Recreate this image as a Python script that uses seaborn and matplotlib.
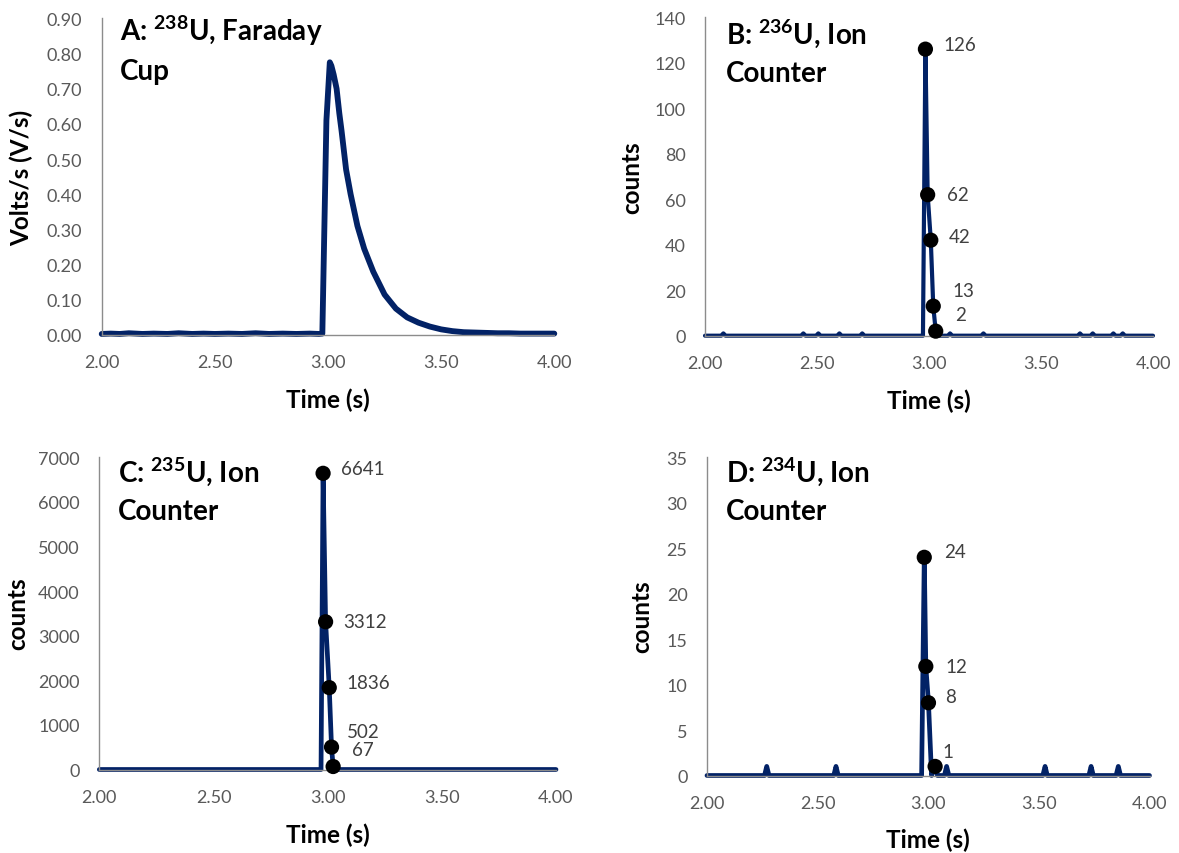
import numpy as np
import pandas as pd
import seaborn as sns
import matplotlib
matplotlib.use("Agg")
import matplotlib.pyplot as plt

# ---------------- data ----------------
# Panel A: 238U Faraday cup signal (V/s)
A_time = [2.00, 2.04, 2.08, 2.12, 2.18, 2.23, 2.29, 2.34, 2.40, 2.45, 2.50, 2.56,
          2.62, 2.68, 2.74, 2.80, 2.86, 2.92, 2.96, 2.975, 2.993, 3.008, 3.015,
          3.025, 3.038, 3.05, 3.06, 3.08, 3.10, 3.13, 3.16, 3.20, 3.25, 3.30,
          3.35, 3.40, 3.45, 3.50, 3.55, 3.60, 3.65, 3.70, 3.75, 3.80, 3.85,
          3.90, 3.95, 4.00]
A_volts = [0.003, 0.004, 0.003, 0.005, 0.003, 0.004, 0.003, 0.005, 0.003, 0.004,
           0.003, 0.004, 0.003, 0.005, 0.003, 0.004, 0.003, 0.004, 0.003, 0.004,
           0.61, 0.775, 0.765, 0.74, 0.70, 0.63, 0.58, 0.47, 0.40, 0.31, 0.245,
           0.18, 0.115, 0.075, 0.05, 0.035, 0.024, 0.016, 0.011, 0.008, 0.007,
           0.006, 0.005, 0.005, 0.004, 0.004, 0.004, 0.004]

# Panel B: 236U ion counter
B_peak_time = [2.973, 2.984, 2.994, 3.008, 3.019, 3.030, 3.040]
B_peak_counts = [0, 126, 62, 42, 13, 2, 0]
B_blip_time = [2.082, 2.439, 2.506, 2.600, 2.702, 3.094, 3.243, 3.674, 3.731, 3.823, 3.865]
B_blip_counts = [1, 1, 1, 1, 1, 1, 1, 1, 1, 1, 1]

# Panel C: 235U ion counter
C_peak_time = [2.971, 2.980, 2.991, 3.007, 3.017, 3.024, 3.035]
C_peak_counts = [0, 6641, 3312, 1836, 502, 67, 0]
C_blip_time = []
C_blip_counts = []

# Panel D: 234U ion counter
D_peak_time = [2.970, 2.982, 2.989, 3.001, 3.015, 3.031, 3.042]
D_peak_counts = [0, 24, 12, 8, 0, 1, 0]
D_labeled_time = [2.982, 2.989, 3.001, 3.031]
D_labeled_counts = [24, 12, 8, 1]
D_blip_time = [2.270, 2.583, 3.083, 3.528, 3.736, 3.859]
D_blip_counts = [1, 1, 1, 1, 1, 1]

x_ticks = [2.00, 2.50, 3.00, 3.50, 4.00]

# ---------------- style ----------------
sns.set_style("white")
plt.rcParams["font.family"] = ["Lato", "DejaVu Sans"]
plt.rcParams["mathtext.fontset"] = "custom"
plt.rcParams["mathtext.rm"] = "Lato:bold"
plt.rcParams["mathtext.bf"] = "Lato:bold"
plt.rcParams["mathtext.it"] = "Lato:bold"

NAVY = "#022266"
AXIS_GRAY = "#8C8C8C"
TICK_TXT = "#595959"
LABEL_TXT = "#404040"

W, H = 1179, 854
fig = plt.figure(figsize=(W / 100, H / 100), dpi=100)


def add_axes(l, r, t, b):
    return fig.add_axes([l / W, 1 - b / H, (r - l) / W, (b - t) / H])


def ion_frame(peak_t, peak_c, blip_t, blip_c, half=0.010):
    t = [2.0, 4.0] + list(peak_t)
    c = [0, 0] + list(peak_c)
    for bt, bc in zip(blip_t, blip_c):
        t += [bt - half, bt, bt + half]
        c += [0, bc, 0]
    df = pd.DataFrame({"time": t, "counts": c}).sort_values("time")
    return df


def style_axes(ax, ylim, yticks, yfmt):
    ax.set_xlim(2.0, 4.0)
    ax.set_ylim(*ylim)
    ax.set_xticks(x_ticks)
    ax.set_xticklabels([f"{v:.2f}" for v in x_ticks])
    ax.set_yticks(yticks)
    ax.set_yticklabels([yfmt.format(v) for v in yticks])
    for s in ["top", "right"]:
        ax.spines[s].set_visible(False)
    for s in ["left", "bottom"]:
        ax.spines[s].set_color(AXIS_GRAY)
        ax.spines[s].set_linewidth(1.0)
    ax.tick_params(axis="both", direction="out", length=4, width=1.0,
                   color=AXIS_GRAY, labelcolor=TICK_TXT, labelsize=13)
    ax.tick_params(axis="x", pad=10)
    ax.tick_params(axis="y", pad=10)
    ax.set_xlabel("")
    ax.set_ylabel("")
    ax.patch.set_alpha(0)


def draw_line(ax, df, y, lw):
    sns.lineplot(data=df, x="time", y=y, ax=ax, color=NAVY, linewidth=lw,
                 estimator=None, sort=False, legend=False)
    for ln in ax.lines:
        ln.set_clip_on(False)
        ln.set_solid_joinstyle("round")
        ln.set_solid_capstyle("round")


def draw_points(ax, times, counts, offsets):
    pts = pd.DataFrame({"time": times, "counts": counts})
    sns.scatterplot(data=pts, x="time", y="counts", ax=ax, color="black",
                    s=120, edgecolor="none", zorder=5, legend=False, clip_on=False)
    for (t, c), (dx, dy) in zip(zip(times, counts), offsets):
        ax.annotate(str(c), (t, c), xytext=(dx, dy), textcoords="offset pixels",
                    ha="left", va="center", fontsize=13.5, color=LABEL_TXT)


# ---------------- Panel A ----------------
axA = add_axes(101.7, 554.3, 19.3, 336)
dfA = pd.DataFrame({"time": A_time, "volts": A_volts})
draw_line(axA, dfA, "volts", 4.2)
style_axes(axA, (0, 0.9), [i / 10 for i in range(10)], "{:.2f}")

# ---------------- Panel B ----------------
axB = add_axes(705, 1153, 18.3, 336.7)
dfB = ion_frame(B_peak_time, B_peak_counts, B_blip_time, B_blip_counts)
draw_line(axB, dfB, "counts", 3.0)
draw_points(axB, B_peak_time[1:6], B_peak_counts[1:6],
            [(18, 5), (19, 0), (18, 4), (19, 16), (19, 17)])
style_axes(axB, (0, 140), list(range(0, 141, 20)), "{:d}")

# ---------------- Panel C ----------------
axC = add_axes(99.3, 556, 458.3, 770.5)
dfC = ion_frame(C_peak_time, C_peak_counts, C_blip_time, C_blip_counts)
draw_line(axC, dfC, "counts", 3.4)
draw_points(axC, C_peak_time[1:6], C_peak_counts[1:6],
            [(18, 5), (18, 0), (17, 5), (15, 16), (19, 17)])
style_axes(axC, (0, 7000), list(range(0, 7001, 1000)), "{:d}")

# ---------------- Panel D ----------------
axD = add_axes(707, 1149.5, 458.3, 776.5)
dfD = ion_frame(D_peak_time, D_peak_counts, D_blip_time, D_blip_counts)
draw_line(axD, dfD, "counts", 3.4)
draw_points(axD, D_labeled_time, D_labeled_counts,
            [(20, 6), (20, 0), (17, 6), (7, 15)])
style_axes(axD, (0, 35), list(range(0, 36, 5)), "{:d}")

# ---------------- titles & axis labels ----------------
def ftext(x, y, s, **kw):
    fig.text(x / W, 1 - y / H, s, **kw)


TITLE = dict(fontsize=20, fontweight="bold", color="black", ha="left", va="baseline")
ftext(120, 41, r"A: $^{238}$U, Faraday", **TITLE)
ftext(120, 80, "Cup", **TITLE)
ftext(726, 43.5, r"B: $^{236}$U, Ion", **TITLE)
ftext(726, 82, "Counter", **TITLE)
ftext(118, 482, r"C: $^{235}$U, Ion", **TITLE)
ftext(118, 520.5, "Counter", **TITLE)
ftext(726, 482, r"D: $^{234}$U, Ion", **TITLE)
ftext(726, 520.5, "Counter", **TITLE)

XL = dict(fontsize=17.5, fontweight="bold", color="black", ha="center", va="baseline")
ftext((101.7 + 554.3) / 2, 408.5, "Time (s)", **XL)
ftext((705 + 1153) / 2, 409, "Time (s)", **XL)
ftext((99.3 + 556) / 2, 843, "Time (s)", **XL)
ftext((707 + 1149.5) / 2, 848, "Time (s)", **XL)

YL = dict(fontsize=17.5, fontweight="bold", color="black", ha="center", va="center",
          rotation=90)
ftext(21.5, 177.5, "Volts/s (V/s)", **YL)
ftext(632, 177.5, "counts", **YL)
ftext(17.5, 614, "counts", **YL)
ftext(642, 617, "counts", **YL)

fig.savefig("out.png", dpi=100)
